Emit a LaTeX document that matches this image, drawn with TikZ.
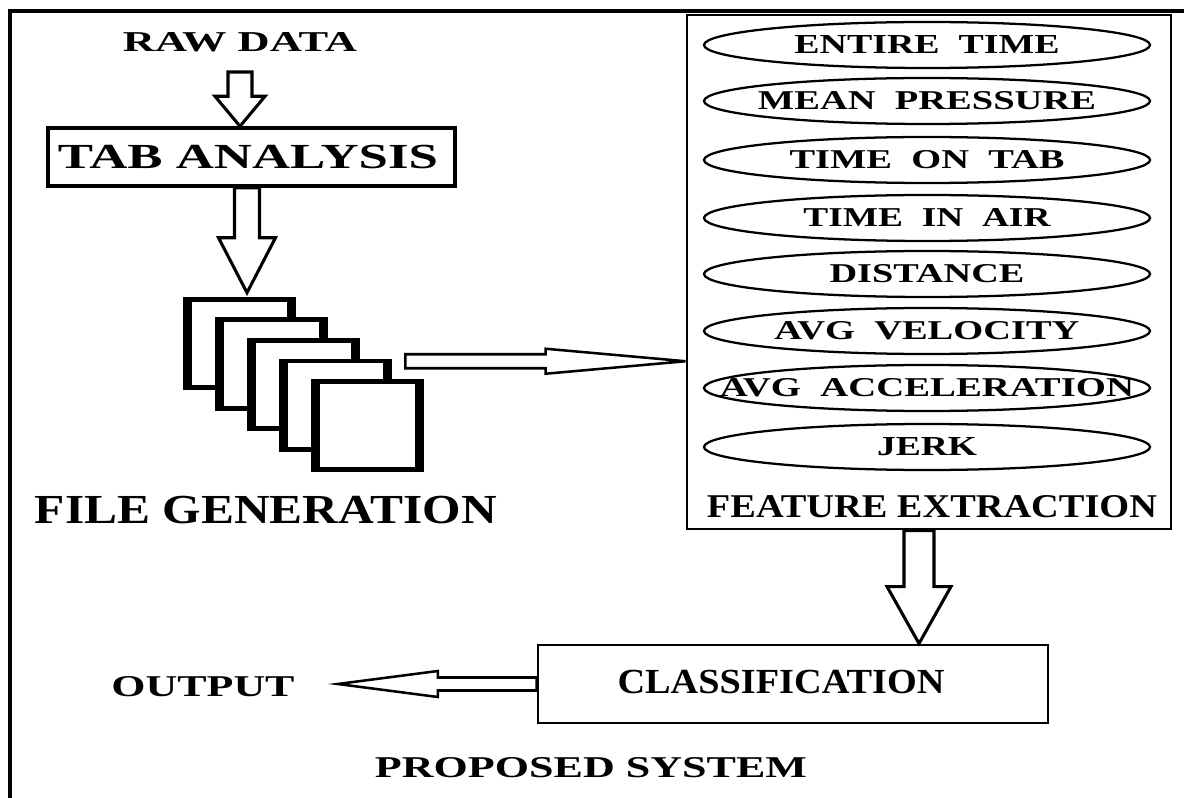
\documentclass[tikz,border=0pt]{standalone}
\usepackage{graphicx}
\usepackage{fontspec}
\setmainfont{Liberation Serif}
\usetikzlibrary{calc,shapes.geometric}
\newcommand\vblockarrow[6]{% style, start, tip, shaft hw, head hw, head length
  \draw[#1] ($(#2)+(-#4,0)$) -- ($(#3)+(-#4,-#6)$) -- ($(#3)+(-#5,-#6)$) -- (#3)
    -- ($(#3)+(#5,-#6)$) -- ($(#3)+(#4,-#6)$) -- ($(#2)+(#4,0)$) -- cycle;}
\newcommand\hblockarrow[6]{% style, start, tip, shaft hw, head hw, signed head length
  \draw[#1] ($(#2)+(0,-#4)$) -- ($(#3)+(-#6,-#4)$) -- ($(#3)+(-#6,-#5)$) -- (#3)
    -- ($(#3)+(-#6,#5)$) -- ($(#3)+(-#6,#4)$) -- ($(#2)+(0,#4)$) -- cycle;}
\tikzset{
  lbl/.style={inner sep=0pt, font=\bfseries},
  boxthick/.style={draw, line width=2.6pt, inner sep=0pt},
  boxmid/.style={draw, line width=2.2pt, inner sep=0pt},
  featell/.style={draw, ellipse, line width=1.7pt, inner sep=0pt,
    minimum width=334.5pt, minimum height=34.5pt},
  pagebox/.style={fill=black, inner sep=0pt, minimum width=84.75pt, minimum height=69.75pt},
  bigarrow/.style={draw, fill=white, line width=2.3pt, line join=miter},
  thinarrow/.style={draw, fill=white, line width=1.9pt, line join=miter},
  frameline/.style={line width=2.3pt},
}
\begin{document}
\begin{tikzpicture}[x=0.75pt,y=-0.75pt]
\useasboundingbox (0,0) rectangle (1184,798);
% outer frame
\draw[frameline] (10,798) -- (10,11) -- (1184,11);

% left column
\node[lbl] (raw) at (240,42) {\resizebox{175.5pt}{14.25pt}{RAW DATA}};
\node[boxthick, minimum width=305.25pt, minimum height=43.5pt] (tab) at (251.5,157) {};
\node[lbl] (tabt) at (248,157) {\resizebox{285pt}{17.5pt}{TAB ANALYSIS}};

% pages
\foreach \i/\cx/\cy in {1/239.5/343.5, 2/271.5/364, 3/303.5/384.5, 4/335.5/405, 5/367.5/425.5}{
  \node[pagebox] (f\i) at (\cx,\cy) {};
  \fill[white] ($(f\i.north west)+(9,5)$) rectangle ($(f\i.south east)+(-9,-5)$);
}
\node[lbl] (filegen) at (266,510) {\resizebox{346.5pt}{20.5pt}{FILE GENERATION}};

% feature extraction
\node[boxmid, minimum width=363pt, minimum height=385.5pt] (feat) at (929,272) {};
\foreach \n/\y/\w/\t in {1/45/198.75/ENTIRE\ \ TIME, 2/101/253.5/MEAN\ \ PRESSURE,
  3/160/206.25/TIME\ \ ON\ \ TAB, 4/218/185.25/TIME\ \ IN\ \ AIR, 5/274/146.25/DISTANCE,
  6/331/228.75/AVG\ \ VELOCITY, 7/388/310.5/AVG\ \ ACCELERATION, 8/447/75/JERK}{
  \node[featell] (e\n) at (927,\y) {};
  \node[lbl] (e\n t) at (e\n.center) {\resizebox{\w pt}{13.5pt}{\t}};
}
\node[lbl] (featt) at (932,507) {\resizebox{337.5pt}{16.5pt}{FEATURE EXTRACTION}};

% classification and output
\node[boxmid, minimum width=382.5pt, minimum height=58.5pt] (class) at (793,684) {};
\node[lbl] (classt) at (781,682) {\resizebox{245.25pt}{17.5pt}{CLASSIFICATION}};
\node[lbl] (output) at (203,687) {\resizebox{137.25pt}{15pt}{OUTPUT}};
\node[lbl] (proposed) at (591,768) {\resizebox{324pt}{15pt}{PROPOSED SYSTEM}};

% connectors
\coordinate (a1s) at ($(raw.south)+(0,20)$);
\coordinate (a1t) at (a1s |- tab.north);
\vblockarrow{bigarrow}{a1s}{a1t}{12}{25}{30}
\coordinate (a2s) at ($(tab.south)+(-4.5,0)$);
\coordinate (a2t) at ($(a2s |- f1.north)+(0,-4)$);
\vblockarrow{bigarrow}{a2s}{a2t}{12.5}{28.5}{55}
\coordinate (a3s) at ($(f4.north east)+(13,3)$);
\coordinate (a3t) at (a3s -| feat.west);
\hblockarrow{thinarrow}{a3s}{a3t}{7}{12.5}{140}
\coordinate (a4s) at ($(feat.south)+(-10,0)$);
\coordinate (a4t) at (a4s |- class.north);
\vblockarrow{bigarrow}{a4s}{a4t}{15}{32}{57}
\coordinate (outtip) at ($(output.east)+(43,-2)$);
\coordinate (a5s) at (class.west);
\coordinate (a5t) at (a5s -| outtip);
\hblockarrow{thinarrow}{a5s}{a5t}{6.5}{13}{-100}
\end{tikzpicture}
\end{document}
